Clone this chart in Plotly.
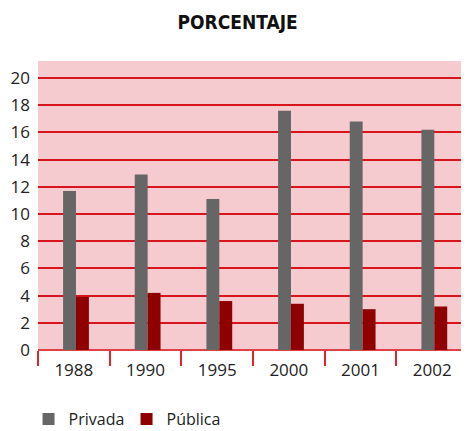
import plotly.graph_objects as go

years = ["1988", "1990", "1995", "2000", "2001", "2002"]
privada = [11.7, 12.9, 11.1, 17.6, 16.8, 16.2]
publica = [3.9, 4.2, 3.6, 3.4, 3.0, 3.2]

FONT = "Open Sans"
BAR_W = 0.18
SHIFT = 0.03

fig = go.Figure()
fig.add_trace(go.Bar(x=years, y=privada, name="Privada", width=BAR_W, offset=-BAR_W + SHIFT,
                     marker=dict(color="#666666", line=dict(width=0))))
fig.add_trace(go.Bar(x=years, y=publica, name="Pública", width=BAR_W, offset=SHIFT,
                     marker=dict(color="#8f0000", line=dict(width=0))))

fig.update_layout(
    width=461, height=423,
    margin=dict(l=30, r=1, t=53, b=81, autoexpand=False),
    paper_bgcolor="white",
    plot_bgcolor="#f6cbcf",
    barmode="overlay",
    title=dict(text="<b>PORCENTAJE</b>", x=0.498, xanchor="center", y=0.967, yanchor="middle",
               font=dict(family="DejaVu Sans Condensed, Liberation Sans, Arial", size=19, color="#111111")),
    font=dict(family=FONT, size=16, color="#222222"),
    showlegend=True,
    legend=dict(orientation="h", x=-0.022, xanchor="left", y=-0.18, yanchor="top",
                font=dict(family=FONT, size=16, color="#222222"),
                entrywidth=53, entrywidthmode="pixels", traceorder="normal"),
)

fig.update_xaxes(
    type="category",
    tickson="boundaries",
    ticks="outside", ticklen=15, tickwidth=1.5, tickcolor="#e0252d",
    ticklabelstandoff=8,
    showgrid=False, showline=False, automargin=False,
    tickfont=dict(family=FONT, size=17, color="#222222"),
)
fig.update_yaxes(
    range=[0, 21.25],
    dtick=2, tick0=0,
    showgrid=True, gridcolor="#d8141c", gridwidth=2,
    zeroline=True, zerolinecolor="#e04048", zerolinewidth=2,
    ticks="", showline=False, automargin=False,
    ticklabelstandoff=7,
    tickfont=dict(family=FONT, size=17, color="#222222"),
)

fig.write_html("out.html")
